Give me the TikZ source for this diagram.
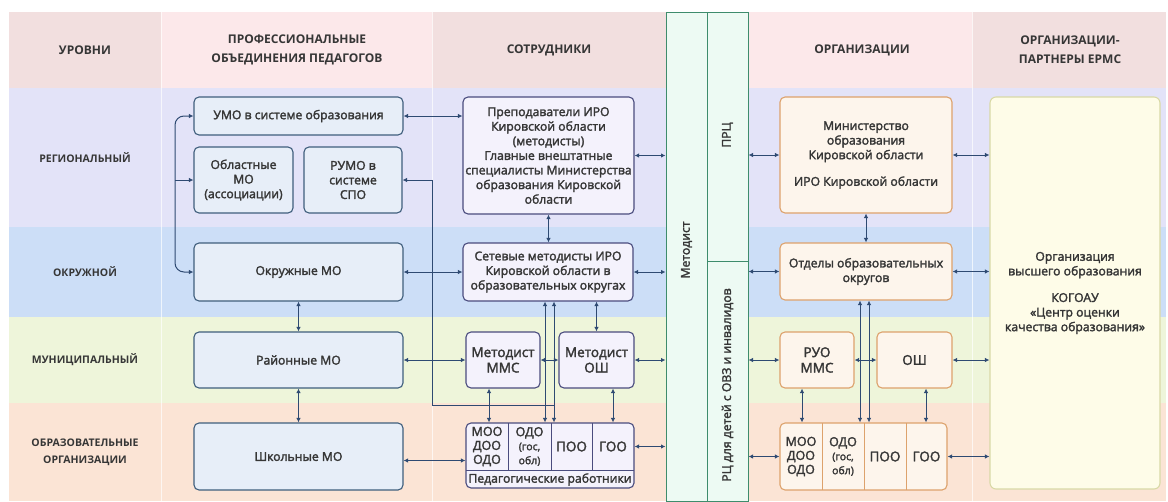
\documentclass[tikz,border=0pt]{standalone}
\usepackage{fontspec}
\setmainfont{Open Sans}
\newfontfamily\medf{Open Sans}[FakeBold=2.2]
\usetikzlibrary{arrows.meta}
\definecolor{hdrA}{HTML}{F2DFDF}
\definecolor{hdrB}{HTML}{FCE8EA}
\definecolor{regC}{HTML}{E3E3F8}
\definecolor{okrC}{HTML}{CCDEF7}
\definecolor{munC}{HTML}{EEF5DA}
\definecolor{obrC}{HTML}{FBE4D5}
\definecolor{bandF}{HTML}{EDFAF3}
\definecolor{bandD}{HTML}{3E8C6C}
\definecolor{bxTwoF}{HTML}{E7EEF8}
\definecolor{bxTwoD}{HTML}{3F5E7C}
\definecolor{bxThreeF}{HTML}{F4F2FC}
\definecolor{bxThreeD}{HTML}{4A4C7E}
\definecolor{bxFourF}{HTML}{FDF5EC}
\definecolor{bxFourD}{HTML}{DDA26C}
\definecolor{partF}{HTML}{FEFCE8}
\definecolor{partD}{HTML}{D9D9A6}
\definecolor{arrC}{HTML}{2E4A72}
\definecolor{txtC}{HTML}{363636}
\newcommand{\smf}{\medf\fontsize{10.5}{13.5}\selectfont}
\tikzset{
  hdr/.style={font=\fontsize{12}{19}\selectfont\bfseries, text=txtC, align=center},
  rowlab/.style={font=\fontsize{10.5}{17}\selectfont\bfseries, text=txtC, align=center},
  body/.style={font=\medf\fontsize{12.2}{14.6}\selectfont, text=txtC, align=center, inner sep=0pt},
  big/.style={font=\medf\fontsize{13.5}{15.5}\selectfont, text=txtC, align=center, inner sep=0pt},
  cellf/.style={font=\medf\fontsize{12.5}{14}\selectfont},
  bxtwo/.style={draw=bxTwoD, fill=bxTwoF, line width=1.1pt, rounded corners=5pt, body},
  bxthree/.style={draw=bxThreeD, fill=bxThreeF, line width=1.1pt, rounded corners=5pt, body},
  bxfour/.style={draw=bxFourD, fill=bxFourF, line width=1.1pt, rounded corners=5pt, body},
  bandbox/.style={draw=bandD, fill=bandF, line width=1pt, inner sep=0pt},
  dar/.style={arrC, line width=1pt, {Latex[length=4.5pt,width=4.5pt]}-{Latex[length=4.5pt,width=4.5pt]}},
  sar/.style={arrC, line width=1pt, -{Latex[length=4.5pt,width=4.5pt]}},
}
\begin{document}
\begin{tikzpicture}[x=1pt,y=-1pt]
\useasboundingbox (0,0) rectangle (1168,501);
\fill[white] (0,0) rectangle (1168,501);
% header row
\fill[hdrA] (9,12) rectangle (161,88);
\fill[hdrB] (161,12) rectangle (432,88);
\fill[hdrA] (432,12) rectangle (666,88);
\fill[hdrB] (748,12) rectangle (972,88);
\fill[hdrA] (972,12) rectangle (1166,88);
% level rows
\foreach \xa/\xb in {9/666, 748/1166}{
  \fill[regC] (\xa,88) rectangle (\xb,227);
  \fill[okrC] (\xa,227) rectangle (\xb,317);
  \fill[munC] (\xa,317) rectangle (\xb,403);
  \fill[obrC] (\xa,403) rectangle (\xb,501);
}
\foreach \x in {161,432,972}{
  \draw[white, opacity=0.7, line width=0.8pt] (\x,12) -- (\x,501);
}
% bands
\node[bandbox, minimum width=41pt, minimum height=489pt] (met) at (686.5,256.5) {};
\node[bandbox, minimum width=41pt, minimum height=249pt] (prc) at (727.5,136.5) {};
\node[bandbox, minimum width=41pt, minimum height=240pt] (rc) at (727.5,381) {};
\node[body, rotate=90] (metlab) at (686.5,250) {Методист};
\node[body, rotate=90] (prclab) at (727.5,135) {ПРЦ};
\node[body, rotate=90] (rclab) at (727.5,385) {РЦ для детей с ОВЗ и инвалидов};
% headers
\node[hdr] (h1) at (85,50) {УРОВНИ};
\node[hdr] (h2) at (297,50) {ПРОФЕССИОНАЛЬНЫЕ\\ОБЪЕДИНЕНИЯ ПЕДАГОГОВ};
\node[hdr] (h3) at (549,50) {СОТРУДНИКИ};
\node[hdr] (h4) at (862,50) {ОРГАНИЗАЦИИ};
\node[hdr] (h5) at (1070,50) {ОРГАНИЗАЦИИ-\\ПАРТНЕРЫ ЕРМС};
% row labels
\node[rowlab] (r1) at (85,158) {РЕГИОНАЛЬНЫЙ};
\node[rowlab] (r2) at (85,272) {ОКРУЖНОЙ};
\node[rowlab] (r3) at (85,360) {МУНИЦИПАЛЬНЫЙ};
\node[rowlab] (r4) at (85,452) {ОБРАЗОВАТЕЛЬНЫЕ\\ОРГАНИЗАЦИИ};
% column 2
\node[bxtwo, minimum width=209pt, minimum height=38pt] (umo) at (298.5,116) {УМО в системе образования};
\node[bxtwo, minimum width=99pt, minimum height=66pt] (obl) at (243.5,180) {Областные\\МО\\(ассоциации)};
\node[bxtwo, minimum width=98pt, minimum height=66pt] (rumo) at (353,180) {РУМО в\\системе\\СПО};
\node[bxtwo, minimum width=209pt, minimum height=58pt] (okr) at (298.5,272) {Окружные МО};
\node[bxtwo, minimum width=209pt, minimum height=56pt] (ray) at (298.5,360) {Районные МО};
\node[bxtwo, minimum width=209pt, minimum height=67pt] (shk) at (298.5,456.5) {Школьные МО};
% column 3
\node[bxthree, minimum width=171pt, minimum height=117pt] (prep) at (548.5,155.5) {Преподаватели ИРО\\Кировской области\\(методисты)\\Главные внештатные\\специалисты Министерства\\образования Кировской\\области};
\node[bxthree, minimum width=170pt, minimum height=58pt] (set) at (548,272) {Сетевые методисты ИРО\\Кировской области в\\образовательных округах};
\node[bxthree, big, minimum width=74pt, minimum height=56pt] (mms) at (503,360) {Методист\\ММС};
\node[bxthree, big, minimum width=75pt, minimum height=56pt] (mosh) at (596.5,360) {Методист\\ОШ};
\node[bxthree, minimum width=168pt, minimum height=65pt] (ped) at (550,455.5) {};
\draw[bxThreeD, line width=1pt] (466,470) -- (634,470);
\foreach \x in {508,551,592}{\draw[bxThreeD, line width=1pt] (\x,423) -- (\x,470);}
\node[big, cellf] (pc1) at (487,446.5) {МОО\\ДОО\\ОДО};
\node[big, cellf] (pc2) at (529.5,446.5) {ОДО\\{\smf(гос,}\\{\smf обл)}};
\node[big] (pc3) at (571.5,446.5) {ПОО};
\node[big] (pc4) at (613,446.5) {ГОО};
\node[body] (pc5) at (550,479.5) {Педагогические работники};
% column 4
\node[bxfour, minimum width=172pt, minimum height=116pt] (minb) at (866,155) {Министерство\\образования\\Кировской области\\[12pt]ИРО Кировской области};
\node[bxfour, minimum width=172pt, minimum height=57pt] (otd) at (866,271.5) {Отделы образовательных\\округов};
\node[bxfour, big, minimum width=74pt, minimum height=56pt] (ruo) at (817,360) {РУО\\ММС};
\node[bxfour, big, minimum width=75pt, minimum height=56pt] (osh) at (914.5,360) {ОШ};
\node[bxfour, minimum width=167pt, minimum height=67pt] (oo) at (863.5,456.5) {};
\foreach \x in {822,864,906}{\draw[bxFourD, line width=1pt] (\x,423) -- (\x,490);}
\node[big, cellf] (oc1) at (801,456.5) {МОО\\ДОО\\ОДО};
\node[big, cellf] (oc2) at (843,456.5) {ОДО\\{\smf(гос,}\\{\smf обл)}};
\node[big] (oc3) at (885,456.5) {ПОО};
\node[big] (oc4) at (926.5,456.5) {ГОО};
% partners
\node[draw=partD, fill=partF, line width=1.1pt, rounded corners=6pt, minimum width=170pt, minimum height=392pt, body] (part) at (1075,293) {Организация\\высшего образования\\[12pt]КОГОАУ\\«Центр оценки\\качества образования»};
% ---- connectors column 2
\coordinate (lv) at (175,0);
\draw[dar, rounded corners=9pt] (umo.west) -| (lv |- okr.west) -- (okr.west);
\draw[sar] (lv |- obl.west) -- (obl.west);
\draw[dar] (umo.east) -- (umo.east -| prep.west);
\draw[dar] (okr.east) -- (set.west);
\draw[dar] (ray.east) -- (mms.west);
\coordinate (shkp) at ([yshift=-4pt]shk.east);
\draw[dar] (shkp) -- (shkp -| ped.west);
\draw[dar] (okr.south) -- (ray.north);
\draw[dar] (ray.south) -- (shk.north);
% rumo line
\coordinate (v1) at ([xshift=-3pt]set.south);
\coordinate (v2) at ([xshift=6pt]set.south);
\coordinate (rv) at (432,405);
\draw[sar] (v2 |- rv) -- (rv) |- (rumo.east);
% column 3 connectors
\draw[dar] (prep.south) -- (prep.south |- set.north);
\draw[dar] (v1) -- (v1 |- ped.north);
\draw[dar] (v2) -- (v2 |- ped.north);
\draw[dar] (mosh.north) -- (mosh.north |- set.south);
\draw[dar] (mms.east) -- (mosh.west);
\coordinate (mmsb) at ([xshift=-14pt]mms.south);
\draw[dar] (mmsb) -- (mmsb |- ped.north);
\coordinate (moshb) at ([xshift=16.5pt]mosh.south);
\draw[dar] (moshb) -- (moshb |- ped.north);
% to Metodist band
\draw[dar] (prep.east) -- (prep.east -| met.west);
\draw[dar] (set.east) -- (set.east -| met.west);
\draw[dar] (mosh.east) -- (mosh.east -| met.west);
\coordinate (pede) at ([yshift=9pt]ped.east);
\draw[dar] (pede) -- (pede -| met.west);
% from PRC / RC band
\draw[dar] (minb.west -| prc.east) -- (minb.west);
\draw[dar] (otd.west -| rc.east) -- (otd.west);
\draw[dar] (ruo.west -| rc.east) -- (ruo.west);
\draw[dar] (oo.west -| rc.east) -- (oo.west);
% column 4 connectors
\draw[dar] (minb.south) -- (minb.south |- otd.north);
\coordinate (w1) at ([xshift=-6pt]otd.south);
\coordinate (w2) at ([xshift=3pt]otd.south);
\draw[dar] (w1) -- (w1 |- oo.north);
\draw[dar] (w2) -- (w2 |- oo.north);
\draw[dar] (ruo.east) -- (osh.west);
\coordinate (ruob) at ([xshift=-15pt]ruo.south);
\draw[dar] (ruob) -- (ruob |- oo.north);
\coordinate (oshb) at ([xshift=11.5pt]osh.south);
\draw[dar] (oshb) -- (oshb |- oo.north);
% to partners
\draw[dar] (minb.east) -- (minb.east -| part.west);
\draw[dar] (otd.east) -- (otd.east -| part.west);
\draw[dar] (osh.east) -- (osh.east -| part.west);
\draw[dar] (oo.east) -- (oo.east -| part.west);
\end{tikzpicture}
\end{document}
